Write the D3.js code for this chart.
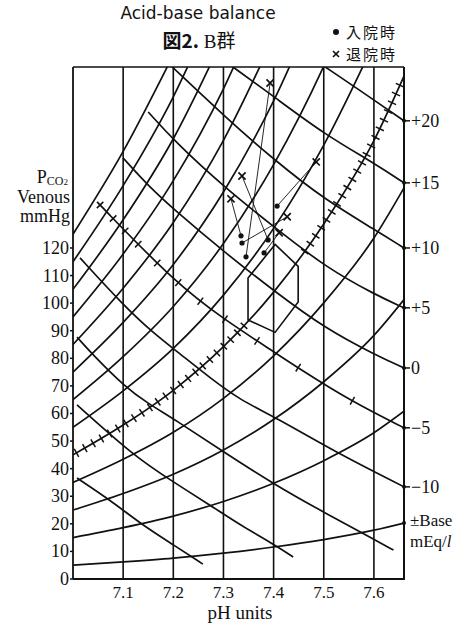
<!DOCTYPE html>
<html>
<head>
<meta charset="utf-8">
<script src="https://cdn.jsdelivr.net/npm/d3@7"></script>
<style>
body { margin: 0; background: #fff; }
text { font-family: "Liberation Serif", "DejaVu Serif", serif; fill: #111; }
</style>
</head>
<body>
<div id="chart"></div>
<script>
// pH grid and PCO2 axis
const phTicks = [7.1, 7.2, 7.3, 7.4, 7.5, 7.6];
const pco2Ticks = [0, 10, 20, 30, 40, 50, 60, 70, 80, 90, 100, 110, 120];

// rising curves, read at these pH values
const risePH = [7.0, 7.1, 7.2, 7.3, 7.4, 7.5, 7.6, 7.66];
const riseCurves = [
    [5, 6.2, 7.6, 9.4, 11.6, 14.3, 17.7, 20.3],
    [15, 18.6, 22.8, 28.1, 34.7, 42.9, 53.0, 60.8],
    [25, 31.0, 38.0, 46.8, 57.8, 71.5, 88.3, 101.3],
    [35, 43.4, 53.2, 65.5, 80.9, 100.1, 123.6, 141.8],
    [45, 55.8, 68.4, 84.2, 104.0, 128.7, 158.9, 182.3],
    [55, 68.2, 83.6, 102.9, 127.1, 157.3, 194.2],
    [65, 80.6, 98.8, 121.6, 150.2, 185.9, 229.5],
    [75, 93.0, 114.0, 140.3, 173.3, 214.5],
    [85, 105.4, 129.2, 159.0, 196.4],
    [95, 117.8, 144.4, 177.7, 219.5],
    [105, 130.2, 159.6, 196.4],
    [115, 142.6, 174.8, 215.1],
    [125, 155.0, 190.0]
];
const hashedCurve = 4;

// base excess lines [pH, PCO2]
const beLabels = ['+20', '+15', '+10', '+5', '0', '\u22125', '\u221210'];
const beCurves = [
    [[7.503, 185.6], [7.603, 173.3], [7.66, 166.1]],
    [[7.319, 185.6], [7.401, 174.8], [7.503, 161.0], [7.603, 150.5], [7.66, 143.6]],
    [[7.198, 185.6], [7.301, 167.9], [7.401, 151.9], [7.503, 137.4], [7.603, 126.5], [7.66, 120.0]],
    [[7.150, 169.3], [7.204, 158.4], [7.303, 141.8], [7.403, 127.3], [7.503, 113.1], [7.603, 103.0], [7.66, 98.3]],
    [[7.100, 152.6], [7.150, 142.5], [7.204, 133.5], [7.301, 118.6], [7.403, 104.1], [7.503, 90.8], [7.603, 81.2], [7.66, 76.5]],
    [[7.048, 136.7], [7.204, 107.3], [7.303, 93.9], [7.401, 82.3], [7.449, 76.5], [7.557, 64.2], [7.66, 54.8]],
    [[7.014, 116.4], [7.100, 99.3], [7.160, 89.2], [7.204, 83.0], [7.273, 72.9], [7.333, 64.9], [7.403, 58.7], [7.523, 46.0], [7.66, 33.4]],
    [[7.008, 87.7], [7.040, 81.2], [7.104, 69.6], [7.148, 63.8], [7.204, 57.7], [7.301, 46.0], [7.403, 34.1], [7.503, 23.9], [7.603, 14.1], [7.639, 10.5]],
    [[7.008, 63.1], [7.124, 44.2], [7.194, 35.9], [7.279, 26.1], [7.333, 19.6], [7.403, 12.3], [7.439, 8.0]],
    [[7.008, 36.6], [7.074, 28.6], [7.138, 19.6], [7.194, 13.1], [7.259, 5.4]]
];
const minusFiveLine = 5;
const minusFiveTickPH = [7.054, 7.080, 7.104, 7.130, 7.168, 7.210, 7.254, 7.303, 7.367, 7.449, 7.557];

// normal range
const normalPH = [7.403, 7.449, 7.449, 7.403, 7.349, 7.349];
const normalPCO2 = [121.3, 113.3, 100.4, 89.4, 93.9, 109.1];

// patients: admission (dot) -> discharge (cross)
const admitPH = [7.335, 7.337, 7.345, 7.389, 7.381, 7.407];
const admitPCO2 = [124.4, 121.8, 116.8, 122.9, 118.2, 135.2];
const dischargePH = [7.315, 7.427, 7.393, 7.337, 7.411, 7.485];
const dischargePCO2 = [137.8, 131.3, 179.8, 146.1, 125.5, 151.2];

const W = 471, H = 629;
const x = d3.scaleLinear().domain([7.0, 7.66]).range([73, 404]);
const y = d3.scaleLinear().domain([0, 185.6]).range([579, 67]);
const [x0, x1] = x.range();
const [yb, yt] = y.range();

const svg = d3.select('#chart').append('svg')
    .attr('width', W)
    .attr('height', H);

svg.append('clipPath').attr('id', 'plot')
    .append('rect')
    .attr('x', x0).attr('y', yt)
    .attr('width', x1 - x0).attr('height', yb - yt);

const plot = svg.append('g').attr('clip-path', 'url(#plot)');

const line = d3.line().x((d) => x(d[0])).y((d) => y(d[1]));

// vertical pH lines
plot.selectAll('.ph-line')
    .data(phTicks)
    .enter()
    .append('line')
    .attr('x1', (d) => x(d)).attr('x2', (d) => x(d))
    .attr('y1', yb).attr('y2', yt)
    .attr('stroke', '#111').attr('stroke-width', 1.6);

// rising curves
const rise = plot.selectAll('.rise')
    .data(riseCurves)
    .enter()
    .append('path')
    .attr('class', 'rise')
    .attr('d', (d) => line.curve(d3.curveMonotoneX)(d.map((v, i) => [risePH[i], v])))
    .attr('fill', 'none')
    .attr('stroke', '#111')
    .attr('stroke-width', 1.7);

// base excess lines
const be = plot.selectAll('.be')
    .data(beCurves)
    .enter()
    .append('path')
    .attr('class', 'be')
    .attr('d', (d) => line.curve(d3.curveBasis)(d))
    .attr('fill', 'none')
    .attr('stroke', '#111')
    .attr('stroke-width', 1.7);

function pointAtX(node, px) {
    let lo = 0, hi = node.getTotalLength();
    for (let k = 0; k < 30; k++) {
        const mid = (lo + hi) / 2;
        if (node.getPointAtLength(mid).x < px) lo = mid; else hi = mid;
    }
    return lo;
}

function crossTick(node, len, half) {
    const p = node.getPointAtLength(len);
    const q = node.getPointAtLength(len + 1);
    const dx = q.x - p.x, dy = q.y - p.y;
    const n = Math.hypot(dx, dy) || 1;
    const nx = -dy / n, ny = dx / n;
    plot.append('line')
        .attr('x1', p.x - nx * half).attr('y1', p.y - ny * half)
        .attr('x2', p.x + nx * half).attr('y2', p.y + ny * half)
        .attr('stroke', '#111').attr('stroke-width', 1.5);
}

// hatched rising curve
const hNode = rise.nodes()[hashedCurve];
const hLen = hNode.getTotalLength();
const gapA = x(7.345), gapB = x(7.455);
for (let l = 4; l < hLen; l += 9.6) {
    const p = hNode.getPointAtLength(l);
    if (p.y < yt + 4 || p.x > x1 - 3) break;
    if (p.x > gapA && p.x < gapB) continue;
    crossTick(hNode, l, 4.5);
}

// ticks on the -5 line
const mNode = be.nodes()[minusFiveLine];
minusFiveTickPH.forEach((ph) => crossTick(mNode, pointAtX(mNode, x(ph)), 4.5));

// normal range hexagon
plot.append('path')
    .attr('d', line.curve(d3.curveLinearClosed)(normalPH.map((p, i) => [p, normalPCO2[i]])))
    .attr('fill', 'none')
    .attr('stroke', '#111')
    .attr('stroke-width', 1.6);

// patient tracks
const pts = admitPH.map((p, i) => ({
    a: [p, admitPCO2[i]],
    b: [dischargePH[i], dischargePCO2[i]]
}));

plot.selectAll('.track')
    .data(pts)
    .enter()
    .append('line')
    .attr('x1', (d) => x(d.a[0])).attr('y1', (d) => y(d.a[1]))
    .attr('x2', (d) => x(d.b[0])).attr('y2', (d) => y(d.b[1]))
    .attr('stroke', '#111').attr('stroke-width', 0.9);

plot.selectAll('.admit')
    .data(pts)
    .enter()
    .append('circle')
    .attr('cx', (d) => x(d.a[0])).attr('cy', (d) => y(d.a[1]))
    .attr('r', 2.6)
    .attr('fill', '#111');

function cross(sel, cx, cy, s) {
    sel.append('path')
        .attr('d', `M${cx - s},${cy - s}L${cx + s},${cy + s}M${cx - s},${cy + s}L${cx + s},${cy - s}`)
        .attr('stroke', '#111').attr('stroke-width', 1.7).attr('fill', 'none');
}
pts.forEach((d) => cross(plot, x(d.b[0]), y(d.b[1]), 3.6));

// frame
const frame = svg.append('g').attr('stroke', '#111').attr('fill', 'none');
frame.append('line').attr('x1', x0).attr('x2', x1).attr('y1', yt).attr('y2', yt).attr('stroke-width', 1.6);
frame.append('line').attr('x1', x0).attr('x2', x0).attr('y1', yt).attr('y2', yb).attr('stroke-width', 1.8);
frame.append('line').attr('x1', x0).attr('x2', x1 + 1).attr('y1', yb).attr('y2', yb).attr('stroke-width', 1.8);
frame.append('line').attr('x1', x1).attr('x2', x1).attr('y1', yt).attr('y2', yb).attr('stroke-width', 2);

// left axis
const yAxis = svg.append('g');
yAxis.selectAll('.yt')
    .data(pco2Ticks)
    .enter()
    .append('line')
    .attr('x1', x0 - 3).attr('x2', x0)
    .attr('y1', (d) => y(d)).attr('y2', (d) => y(d))
    .attr('stroke', '#111').attr('stroke-width', 1.5);
yAxis.selectAll('.yl')
    .data(pco2Ticks)
    .enter()
    .append('text')
    .attr('x', x0 - 4)
    .attr('y', (d) => y(d) + 6)
    .attr('text-anchor', 'end')
    .attr('font-size', 18)
    .text((d) => d);

const yTitle = svg.append('text')
    .attr('x', 68).attr('y', 183)
    .attr('text-anchor', 'end')
    .attr('font-size', 18);
yTitle.append('tspan').text('P');
yTitle.append('tspan').attr('font-size', 12).attr('dy', 2).text('CO');
yTitle.append('tspan').attr('font-size', 9).text('2');
svg.append('text').attr('x', 70).attr('y', 203).attr('text-anchor', 'end').attr('font-size', 18).text('Venous');
svg.append('text').attr('x', 70).attr('y', 222).attr('text-anchor', 'end').attr('font-size', 18).text('mmHg');

// bottom axis labels
svg.selectAll('.xl')
    .data(phTicks)
    .enter()
    .append('text')
    .attr('x', (d) => x(d))
    .attr('y', 598)
    .attr('text-anchor', 'middle')
    .attr('font-size', 17)
    .text((d) => d.toFixed(1));
svg.append('text').attr('x', 240).attr('y', 619).attr('text-anchor', 'middle').attr('font-size', 19).text('pH units');

// right base excess scale
const rAxis = svg.append('g');
beLabels.forEach((lab, i) => {
    const end = beCurves[i][beCurves[i].length - 1];
    const yy = y(end[1]);
    rAxis.append('circle').attr('cx', x1).attr('cy', yy).attr('r', 2).attr('fill', '#111');
    rAxis.append('line').attr('x1', x1).attr('x2', x1 + 6).attr('y1', yy).attr('y2', yy)
        .attr('stroke', '#111').attr('stroke-width', 1.5);
    rAxis.append('text').attr('x', x1 + 7).attr('y', yy + 6).attr('font-size', 18).text(lab);
});
const baseEnd = riseCurves[0][riseCurves[0].length - 1];
rAxis.append('circle').attr('cx', x1).attr('cy', y(baseEnd)).attr('r', 2).attr('fill', '#111');
rAxis.append('text').attr('x', x1 + 6).attr('y', 526).attr('font-size', 17).text('\u00b1Base');
const meq = rAxis.append('text').attr('x', x1 + 6).attr('y', 547).attr('font-size', 17);
meq.append('tspan').text('mEq/');
meq.append('tspan').attr('font-style', 'italic').text('l');

// titles and legend
svg.append('text')
    .attr('x', 198).attr('y', 19)
    .attr('text-anchor', 'middle')
    .attr('font-size', 17)
    .style('font-family', '"DejaVu Sans", sans-serif')
    .text('Acid-base balance');

const fig = svg.append('text')
    .attr('x', 199).attr('y', 48)
    .attr('text-anchor', 'middle')
    .attr('font-size', 19);
fig.append('tspan').style('font-family', '"Noto Sans CJK JP", sans-serif').attr('font-weight', 'bold').text('図2.');
fig.append('tspan').text(' B');
fig.append('tspan').style('font-family', '"Noto Sans CJK JP", sans-serif').text('群');

svg.append('circle').attr('cx', 336).attr('cy', 32).attr('r', 3).attr('fill', '#111');
cross(svg, 336, 54, 3);
svg.append('text').attr('x', 346).attr('y', 38).attr('font-size', 15).attr('letter-spacing', 2)
    .style('font-family', '"Noto Sans CJK JP", sans-serif').text('入院時');
svg.append('text').attr('x', 346).attr('y', 60).attr('font-size', 15).attr('letter-spacing', 2)
    .style('font-family', '"Noto Sans CJK JP", sans-serif').text('退院時');
</script>
</body>
</html>
